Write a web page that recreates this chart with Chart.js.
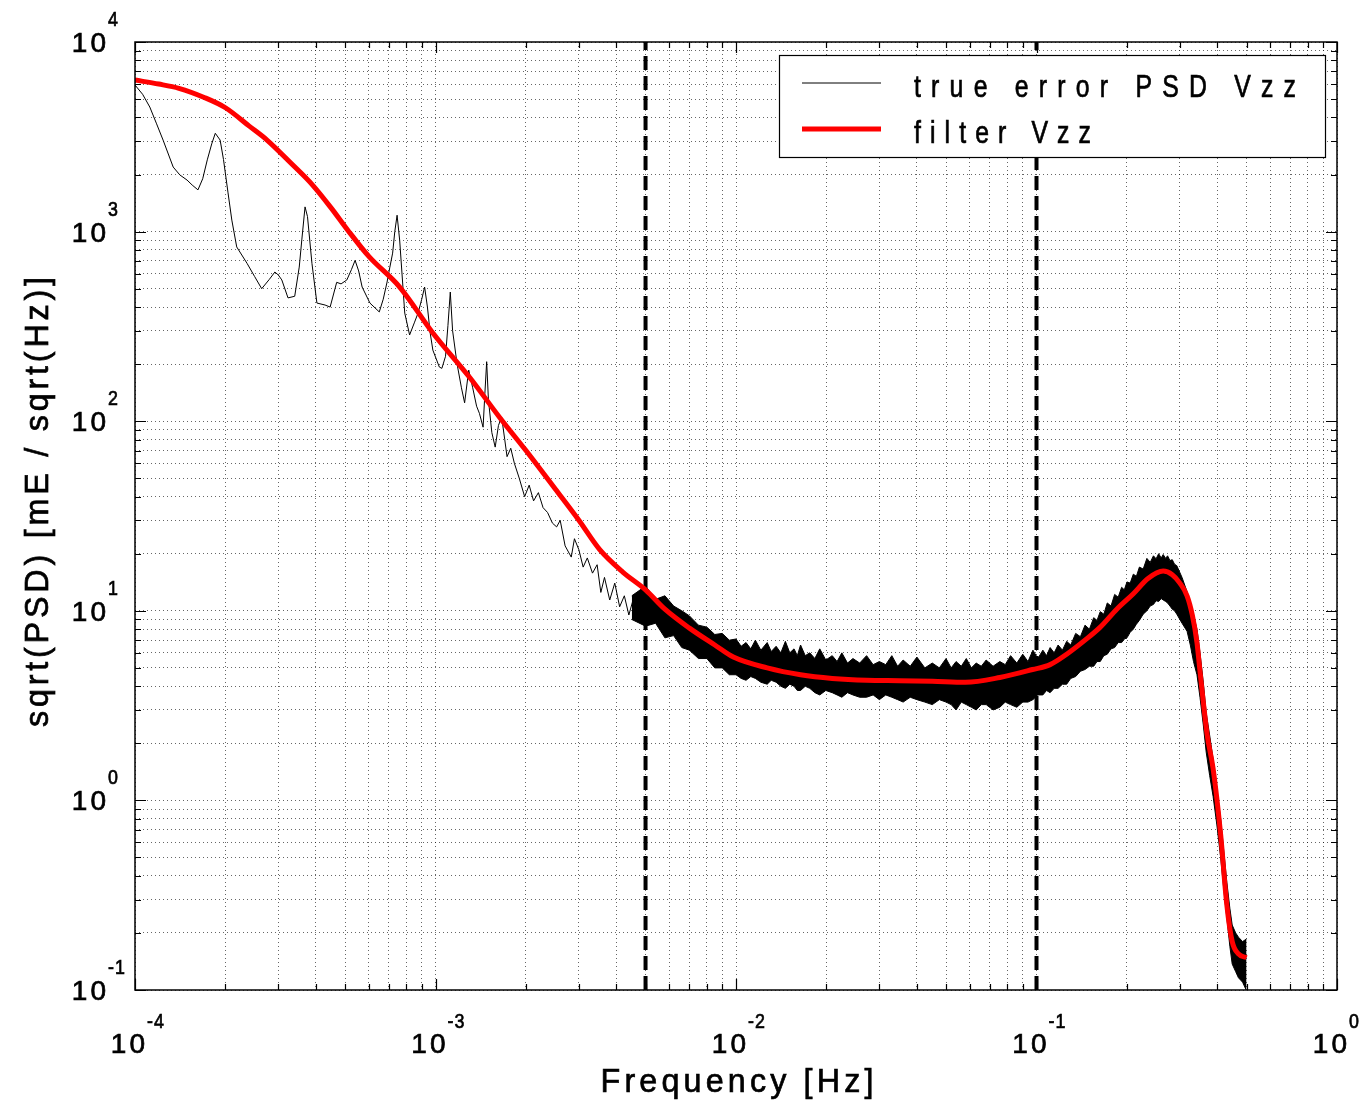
<!DOCTYPE html>
<html>
<head>
<meta charset="utf-8">
<script src="https://cdn.jsdelivr.net/npm/chart.js@4.4.1/dist/chart.umd.min.js"></script>
<style>
  html, body { margin: 0; padding: 0; background: #fff; }
  #wrap { width: 1368px; height: 1100px; }
</style>
</head>
<body>
<div id="wrap"><canvas id="psdChart" width="1368" height="1100"></canvas></div>
<script>
// --- Data ---
// low frequency part of the true error PSD (single visible trace)
const trueFreq = [
  1.00e-4, 1.06e-4, 1.12e-4, 1.18e-4, 1.24e-4, 1.34e-4, 1.41e-4, 1.49e-4, 1.55e-4, 1.62e-4,
  1.68e-4, 1.74e-4, 1.80e-4, 1.85e-4, 1.92e-4, 1.97e-4, 2.04e-4, 2.10e-4, 2.18e-4, 2.36e-4,
  2.50e-4, 2.64e-4, 2.80e-4, 2.92e-4, 3.00e-4, 3.08e-4, 3.23e-4, 3.40e-4, 3.52e-4, 3.59e-4,
  3.68e-4, 3.75e-4, 3.88e-4, 4.03e-4, 4.29e-4, 4.46e-4, 4.69e-4, 4.85e-4, 5.07e-4, 5.25e-4,
  5.40e-4, 5.55e-4, 5.70e-4, 6.05e-4, 6.50e-4, 6.70e-4, 6.90e-4, 7.05e-4, 7.20e-4, 7.32e-4,
  7.45e-4, 7.60e-4, 7.90e-4, 8.20e-4, 8.50e-4, 8.75e-4, 9.00e-4, 9.20e-4, 9.40e-4, 9.60e-4,
  9.80e-4, 1.03e-3, 1.05e-3, 1.08e-3, 1.10e-3, 1.12e-3, 1.14e-3, 1.18e-3, 1.22e-3, 1.25e-3,
  1.29e-3, 1.33e-3, 1.37e-3, 1.40e-3, 1.44e-3, 1.46e-3, 1.48e-3, 1.50e-3, 1.54e-3, 1.58e-3,
  1.62e-3, 1.66e-3, 1.70e-3, 1.73e-3, 1.78e-3, 1.83e-3, 1.90e-3, 1.98e-3, 2.05e-3, 2.12e-3,
  2.20e-3, 2.28e-3, 2.36e-3, 2.45e-3, 2.53e-3, 2.60e-3, 2.70e-3, 2.83e-3, 2.90e-3, 3.00e-3,
  3.10e-3, 3.20e-3, 3.33e-3, 3.45e-3, 3.55e-3, 3.65e-3, 3.80e-3, 3.95e-3, 4.10e-3, 4.25e-3,
  4.40e-3, 4.55e-3, 4.70e-3, 4.85e-3, 5.00e-3
];
const trueVal = [
  5930, 5300, 4540, 3700, 3040, 2190, 1990, 1870, 1760, 1660,
  1900, 2390, 2900, 3300, 3040, 2400, 1600, 1150, 830, 680,
  580, 500, 560, 612, 590, 556, 447, 456, 650, 904,
  1350, 1200, 680, 420, 410, 400, 540, 530, 556, 630,
  705, 620, 510, 420, 377, 440, 542, 650, 770, 1000,
  1220, 900, 372, 285, 330, 372, 440, 510, 400, 292,
  237, 193, 190, 220, 320, 480, 300, 200, 150, 125,
  186, 150, 120, 110, 93, 140, 206, 130, 87, 73,
  95, 105, 80, 65, 72, 60, 50, 40, 46, 38,
  42, 35, 33, 29, 27.7, 30, 22, 19.2, 24, 21,
  17, 19, 15.8, 17.5, 12.5, 15, 11.4, 14, 10.5, 12,
  9.5, 11.5, 8.8, 10.5, 9
];

// dense noisy part: upper and lower edge of the black band
const bandFreq = [
  0.0045, 0.0050, 0.0054, 0.0058, 0.0062, 0.0066, 0.0070, 0.0075, 0.0080, 0.0085,
  0.0090, 0.0095, 0.0100, 0.0104, 0.0108, 0.0112, 0.0116, 0.0121, 0.0127, 0.0131,
  0.0136, 0.0141, 0.0146, 0.0151, 0.0156, 0.0160, 0.0164, 0.0170, 0.0176, 0.0183,
  0.0190, 0.0199, 0.0209, 0.0217, 0.0225, 0.0235, 0.0245, 0.0258, 0.0272, 0.0286,
  0.0300, 0.0315, 0.0330, 0.0345, 0.0360, 0.0380, 0.0400, 0.0425, 0.0450, 0.0475,
  0.0500, 0.0520, 0.0540, 0.0562, 0.0584, 0.0607, 0.0630, 0.0655, 0.0680, 0.0717,
  0.0755, 0.0787, 0.0820, 0.0860, 0.0900, 0.0937, 0.0973, 0.1010, 0.1050, 0.1080,
  0.1110, 0.1145, 0.1180, 0.1220, 0.1260, 0.1300, 0.1350, 0.1400, 0.1450, 0.1500,
  0.1550, 0.1590, 0.1630, 0.1675, 0.1720, 0.1770, 0.1820, 0.1870, 0.1920, 0.1960,
  0.2000, 0.2050, 0.2100, 0.2150, 0.2200, 0.2265, 0.2330, 0.2390, 0.2450, 0.2500,
  0.2550, 0.2600, 0.2640, 0.2690, 0.2730, 0.2780, 0.2830, 0.2880, 0.2930, 0.3050,
  0.3170, 0.3250, 0.3330, 0.3420, 0.3500, 0.3590, 0.3670, 0.3770, 0.3870, 0.3980,
  0.4100, 0.4200, 0.4300, 0.4400, 0.4480, 0.4600, 0.4700, 0.4850, 0.5000
];
const bandUpper = [
  12.0, 13.5, 11.5, 12.0, 10.6, 10.0, 9.4, 8.4, 8.2, 7.5,
  7.6, 7.0, 7.1, 6.5, 6.8, 6.3, 7.0, 6.2, 6.8, 6.1,
  6.5, 6.0, 6.9, 6.0, 6.3, 5.8, 6.6, 5.8, 6.0, 5.6,
  6.3, 5.5, 5.8, 5.4, 6.0, 5.3, 5.6, 5.3, 5.8, 5.2,
  5.4, 5.2, 5.8, 5.1, 5.5, 5.1, 5.7, 5.0, 5.3, 5.0,
  5.6, 5.0, 5.4, 5.1, 5.6, 5.0, 5.3, 5.1, 5.5, 5.1,
  5.4, 5.2, 5.8, 5.3, 5.9, 5.4, 6.2, 5.6, 6.2, 5.8,
  6.4, 6.0, 6.6, 6.2, 6.9, 6.6, 7.6, 7.3, 8.4, 8.0,
  9.2, 8.9, 9.9, 9.6, 11.0, 10.6, 12.2, 11.8, 13.3, 12.9,
  14.2, 14.0, 15.6, 15.2, 17.0, 16.6, 18.9, 18.0, 19.5, 18.8,
  20.0, 19.0, 19.8, 18.9, 19.5, 18.4, 18.6, 17.6, 17.3, 15.0,
  12.6, 11.0, 9.5, 8.0, 6.0, 4.2, 2.9, 2.2, 1.65, 1.15,
  0.80, 0.54, 0.37, 0.27, 0.22, 0.20, 0.19, 0.18, 0.186
];
const bandLower = [
  9.0, 8.3, 8.6, 7.2, 7.4, 6.4, 6.2, 5.6, 5.6, 5.0,
  5.0, 4.6, 4.6, 4.4, 4.3, 4.5, 4.4, 4.2, 4.1, 4.3,
  4.2, 4.0, 3.9, 4.1, 4.0, 3.8, 3.8, 4.0, 3.9, 3.7,
  3.6, 3.8, 3.7, 3.6, 3.5, 3.7, 3.6, 3.5, 3.5, 3.6,
  3.4, 3.6, 3.5, 3.4, 3.3, 3.5, 3.4, 3.3, 3.2, 3.4,
  3.3, 3.2, 3.0, 3.3, 3.2, 3.1, 3.0, 3.2, 3.2, 3.0,
  3.1, 3.3, 3.2, 3.1, 3.3, 3.3, 3.4, 3.6, 3.6, 3.8,
  3.7, 3.9, 3.9, 4.1, 4.1, 4.4, 4.5, 4.8, 4.9, 5.1,
  5.1, 5.4, 5.4, 5.8, 5.9, 6.3, 6.4, 6.8, 6.8, 7.1,
  7.2, 7.7, 8.0, 8.5, 8.9, 9.6, 10.0, 10.6, 10.8, 11.3,
  11.2, 11.6, 11.4, 11.2, 11.0, 10.6, 10.2, 10.0, 9.6, 8.6,
  7.8, 6.6, 5.4, 4.6, 3.5, 2.5, 1.8, 1.35, 1.05, 0.75,
  0.50, 0.34, 0.24, 0.17, 0.137, 0.125, 0.116, 0.11, 0.099
];

// filter Vzz (red)
const filterFreq = [
  1.0e-4, 1.2e-4, 1.4e-4, 1.7e-4, 2.0e-4, 2.4e-4, 2.75e-4, 3.3e-4, 3.9e-4, 4.5e-4,
  5.1e-4, 6.0e-4, 7.6e-4, 9.8e-4, 1.3e-3, 1.64e-3, 2.0e-3, 2.5e-3, 3.0e-3, 3.52e-3,
  4.2e-3, 5.0e-3, 5.8e-3, 7.0e-3, 8.5e-3, 9.8e-3, 1.27e-2, 1.64e-2, 2.09e-2, 2.72e-2,
  3.5e-2, 4.5e-2, 5.8e-2, 7.55e-2, 9.7e-2, 0.111, 0.126, 0.145, 0.163, 0.185,
  0.21, 0.235, 0.264, 0.283, 0.30, 0.317, 0.33, 0.342, 0.35, 0.359,
  0.37, 0.387, 0.41, 0.43, 0.448, 0.47, 0.5
];
const filterVal = [
  6300, 6000, 5700, 5100, 4500, 3600, 3040, 2300, 1760, 1330,
  1020, 740, 510, 292, 170, 104, 70, 44, 30, 21,
  16, 12.9, 10.2, 8.1, 6.6, 5.7, 5.0, 4.6, 4.4, 4.3,
  4.28, 4.25, 4.2, 4.45, 4.9, 5.2, 5.9, 7.0, 8.2, 10.2,
  12.3, 14.8, 16.2, 15.5, 14.0, 12.0, 9.5, 6.8, 4.8, 3.3,
  2.2, 1.47, 0.66, 0.28, 0.18, 0.155, 0.148
];

// vertical dashed marker lines
const markerFreq = [0.005, 0.1];

// axes
const xExponents = [-4, -3, -2, -1, 0];
const yExponents = [-1, 0, 1, 2, 3, 4];
const minorSteps = [1, 2, 3, 4, 5, 6, 7, 8, 9];

const legendLabels = ['true error PSD Vzz', 'filter Vzz'];
const xTitle = 'Frequency [Hz]';
const yTitle = 'sqrt(PSD) [mE / sqrt(Hz)]';

// --- Helpers ---
const FONT = '"Liberation Sans", Arial, sans-serif';
const toPoints = (xs, ys) => xs.map((x, i) => ({ x, y: ys[i] }));

const decadeTicks = (exps) => {
  const out = [];
  exps.forEach((e, i) => {
    if (i === exps.length - 1) { out.push(Math.pow(10, e)); return; }
    minorSteps.forEach(m => out.push(m * Math.pow(10, e)));
  });
  return out;
};
const isMajor = (v) => Math.abs(Math.log10(v) - Math.round(Math.log10(v))) < 1e-9;

// letter spaced, slightly heavy text like the original plot
const charWidths = (ctx, text, size, sx) => {
  ctx.font = size + 'px ' + FONT;
  return [...text].map(c => ctx.measureText(c).width * sx);
};
const drawSpaced = (ctx, text, x, y, size, sx, gap, align) => {
  const ws = charWidths(ctx, text, size, sx);
  const total = ws.reduce((a, b) => a + b, 0) + gap * (ws.length - 1);
  let cx = align === 'right' ? x - total : align === 'center' ? x - total / 2 : x;
  ctx.strokeStyle = '#000';
  ctx.lineWidth = 0.7;
  [...text].forEach((ch, i) => {
    ctx.save();
    ctx.translate(cx, y);
    ctx.scale(sx, 1);
    ctx.fillText(ch, 0, 0);
    ctx.strokeText(ch, 0, 0);
    ctx.restore();
    cx += ws[i] + gap;
  });
  return total;
};
const fitGap = (ctx, text, size, sx, width) => {
  const ws = charWidths(ctx, text, size, sx);
  return (width - ws.reduce((a, b) => a + b, 0)) / (ws.length - 1);
};

// --- Plugin: frame, inward ticks, tick labels, titles, legend ---
const framePlugin = {
  id: 'frame',
  afterDatasetsDraw(chart) {
    const { ctx, chartArea: a, scales } = chart;
    const xs = scales.x, ys = scales.y;
    ctx.save();
    ctx.strokeStyle = '#000';
    ctx.lineWidth = 1.2;
    ctx.beginPath();
    decadeTicks(xExponents).forEach(v => {
      const px = Math.round(xs.getPixelForValue(v)) + 0.5;
      const len = isMajor(v) ? 11 : 6;
      ctx.moveTo(px, a.bottom); ctx.lineTo(px, a.bottom - len);
      ctx.moveTo(px, a.top); ctx.lineTo(px, a.top + len);
    });
    decadeTicks(yExponents).forEach(v => {
      const py = Math.round(ys.getPixelForValue(v)) + 0.5;
      const len = isMajor(v) ? 11 : 6;
      ctx.moveTo(a.left, py); ctx.lineTo(a.left + len, py);
      ctx.moveTo(a.right, py); ctx.lineTo(a.right - len, py);
    });
    ctx.stroke();
    ctx.lineWidth = 1.5;
    ctx.strokeRect(a.left, a.top, a.right - a.left, a.bottom - a.top);

    // legend box
    const lx = 779, ly = 55, lw = 546, lh = 102;
    ctx.fillStyle = '#fff';
    ctx.fillRect(lx, ly, lw, lh);
    ctx.lineWidth = 1.2;
    ctx.strokeRect(lx + 0.5, ly + 0.5, lw, lh);
    const ds = chart.data.datasets;
    const rows = [{ y: 83, ds: ds[5], w: 382 }, { y: 129, ds: ds[0], w: 177 }];
    rows.forEach((r, i) => {
      ctx.strokeStyle = r.ds.borderColor;
      ctx.lineWidth = r.ds.borderWidth;
      ctx.beginPath();
      ctx.moveTo(802, r.y); ctx.lineTo(881, r.y);
      ctx.stroke();
      ctx.fillStyle = '#000';
      const gap = fitGap(ctx, legendLabels[i], 31, 0.8, r.w);
      drawSpaced(ctx, legendLabels[i], 914, r.y + 14, 31, 0.8, gap, 'left');
    });

    // tick labels: 10 with superscript exponent
    ctx.fillStyle = '#000';
    xExponents.forEach(e => {
      const px = xs.getPixelForValue(Math.pow(10, e));
      drawSpaced(ctx, '10', px + 10, 1053, 28, 1, 3, 'right');
      drawSpaced(ctx, String(e), px + 12, 1028, 21, 0.85, 1, 'left');
    });
    yExponents.forEach(e => {
      const py = ys.getPixelForValue(Math.pow(10, e));
      drawSpaced(ctx, '10', 106, py + 10, 28, 1, 3, 'right');
      drawSpaced(ctx, String(e), 108, py - 16, 21, 0.85, 1, 'left');
    });

    // axis titles
    drawSpaced(ctx, xTitle, 737, 1092, 34, 0.95, fitGap(ctx, xTitle, 34, 0.95, 273), 'center');
    ctx.save();
    ctx.translate(48, 502);
    ctx.rotate(-Math.PI / 2);
    drawSpaced(ctx, yTitle, 0, 0, 34, 0.95, fitGap(ctx, yTitle, 34, 0.95, 450), 'center');
    ctx.restore();
    ctx.restore();
  }
};

// --- Chart ---
const gridOpts = { color: 'rgba(0,0,0,0.6)', lineWidth: 1, drawTicks: false };
const borderOpts = { display: false, dash: [1, 3] };

const datasets = [
  {
    label: legendLabels[1], data: toPoints(filterFreq, filterVal),
    borderColor: '#ff0000', borderWidth: 5, pointRadius: 0, fill: false,
    cubicInterpolationMode: 'monotone'
  },
  ...markerFreq.map(f => ({
    label: 'marker', data: [{ x: f, y: 0.1 }, { x: f, y: 1e4 }],
    borderColor: '#000', borderWidth: 4, borderDash: [14, 6], pointRadius: 0, fill: false
  })),
  {
    label: 'band upper', data: toPoints(bandFreq, bandUpper),
    borderColor: '#000', borderWidth: 1, pointRadius: 0, fill: false
  },
  {
    label: 'band lower', data: toPoints(bandFreq, bandLower),
    borderColor: '#000', borderWidth: 1, pointRadius: 0, fill: '-1', backgroundColor: '#000'
  },
  {
    label: legendLabels[0], data: toPoints(trueFreq, trueVal),
    borderColor: '#000', borderWidth: 1, pointRadius: 0, fill: false
  }
];

new Chart(document.getElementById('psdChart').getContext('2d'), {
  type: 'line',
  data: { datasets },
  options: {
    responsive: false,
    animation: false,
    devicePixelRatio: 1,
    layout: { padding: { left: 135, right: 31, top: 42, bottom: 110 } },
    elements: { line: { tension: 0 } },
    plugins: { legend: { display: false }, tooltip: { enabled: false } },
    scales: {
      x: {
        type: 'logarithmic', min: 1e-4, max: 1,
        afterBuildTicks: s => { s.ticks = decadeTicks(xExponents).map(v => ({ value: v })); },
        ticks: { display: false }, grid: gridOpts, border: borderOpts
      },
      y: {
        type: 'logarithmic', min: 0.1, max: 1e4,
        afterBuildTicks: s => { s.ticks = decadeTicks(yExponents).map(v => ({ value: v })); },
        ticks: { display: false }, grid: gridOpts, border: borderOpts
      }
    }
  },
  plugins: [framePlugin]
});
</script>
</body>
</html>
